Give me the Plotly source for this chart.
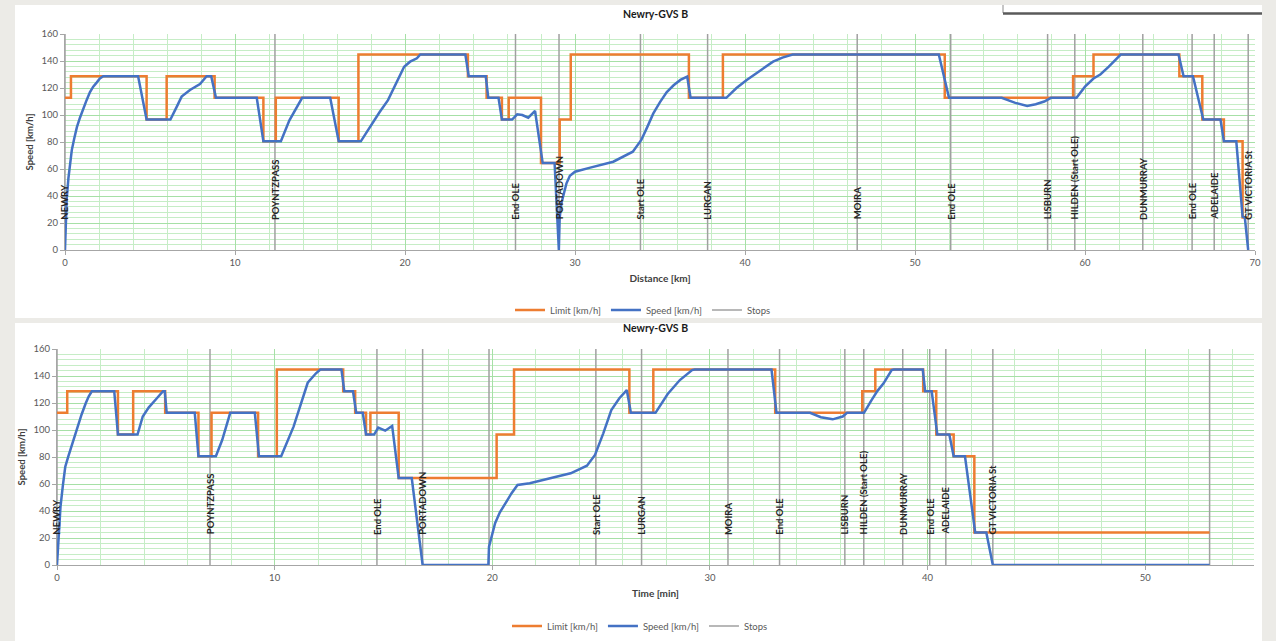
import plotly.graph_objects as go

# ---- Speed limit along the route (step function: segment start, limit value) ----
limit_km_start = [0, 0.35, 4.8, 5.98, 8.8, 11.67, 12.4, 16.1, 17.26, 23.7, 24.8, 25.7, 26.1,
                  28.0, 29.1, 29.75, 36.7, 38.7, 51.75, 59.3, 60.5, 65.55, 66.9, 68.17, 69.27, 69.6]
limit_km_value = [112.7, 128.7, 96.6, 128.7, 112.7, 80.5, 112.7, 80.5, 144.8, 128.7, 112.7, 96.6, 112.7,
                  64.4, 96.6, 144.8, 112.7, 144.8, 112.7, 128.7, 144.8, 128.7, 96.6, 80.5, 24.1, 24.1]

# ---- Simulated train speed against distance ----
speed_km = [0, 0.1, 0.2, 0.3, 0.4, 0.55, 0.7, 0.88, 1.08, 1.27, 1.47, 1.66, 1.86, 2.05, 2.25, 4.3, 4.8,
            6.2, 6.57, 6.86, 7.35, 7.94, 8.33, 8.6, 8.88, 11.28, 11.67, 12.7, 13.2, 13.8, 13.95, 15.6,
            16.1, 17.4, 18.0, 18.5, 19.0, 19.5, 19.95, 20.3, 20.7, 20.9, 23.55, 23.75, 24.75, 24.9, 25.5,
            25.7, 26.3, 26.6, 26.9, 27.25, 27.65, 28.1, 28.8, 29.05, 29.1, 29.2, 29.35, 29.5, 29.7, 30.0,
            30.9, 32.25, 33.4, 33.9, 34.25, 34.6, 35.0, 35.4, 35.8, 36.2, 36.6, 36.8, 38.9, 39.5, 40.1,
            40.9, 41.65, 42.2, 42.8, 51.4, 52.0, 55.1, 55.9, 56.6, 57.1, 57.6, 58.0, 59.5, 60.0, 60.5,
            60.9, 61.4, 62.0, 62.1, 65.5, 65.8, 66.35, 66.96, 67.97, 68.17, 68.9, 69.27, 69.4, 69.6]
speed_km_value = [0, 38, 53, 65, 74, 83, 91, 98, 105, 111, 117, 121, 124, 127, 128.7, 128.7, 96.6,
                  96.6, 106, 113.6, 118.5, 123, 128.7, 128.7, 112.7, 112.7, 80.5, 80.5, 96, 110, 112.7,
                  112.7, 80.5, 80.5, 92.6, 102, 111, 124, 135.8, 139.5, 142, 144.8, 144.8, 128.7, 128.7,
                  112.7, 112.7, 96.6, 96.6, 100.5, 100, 98, 103, 64.4, 64.4, 0, 24, 34.6, 43, 49.4, 55,
                  58, 61, 65.4, 72.8, 81.5, 91, 101, 109.5, 117, 122, 126, 128.4, 112.7, 112.7, 120, 126,
                  133, 139.5, 142.5, 144.8, 144.8, 112.7, 112.7, 109, 106.7, 108, 110, 112.7, 112.7, 121,
                  127, 130, 135.8, 144, 144.8, 144.8, 128.7, 128.7, 96.6, 96.6, 80.5, 80.5, 24.7, 24.1, 0]

# ---- Stops / markers along the route (km) ----
stops_km = [0, 12.35, 26.5, 29.06, 33.85, 37.8, 46.6, 52.1, 57.8, 59.4, 63.4, 66.3, 67.6, 69.6]
stops_km_names = ["NEWRY", "POYNTZPASS", "End OLE", "PORTADOWN", "Start OLE", "LURGAN", "MOIRA",
                  "End OLE", "LISBURN", "HILDEN (Start OLE)", "DUNMURRAY", "End OLE", "ADELAIDE",
                  "GT VICTORIA St"]

# ---- Speed limit against time (step function) ----
limit_min_start = [0, 0.47, 2.8, 3.5, 4.97, 6.5, 7.1, 9.24, 10.1, 13.15, 13.7, 14.2, 14.4, 15.7, 20.2,
                   21.0, 26.3, 27.4, 33.0, 37.0, 37.6, 39.8, 40.4, 41.2, 42.15, 52.96]
limit_min_value = [112.7, 128.7, 96.6, 128.7, 112.7, 80.5, 112.7, 80.5, 144.8, 128.7, 112.7, 96.6,
                   112.7, 64.4, 96.6, 144.8, 112.7, 144.8, 112.7, 128.7, 144.8, 128.7, 96.6, 80.5,
                   24.1, 24.1]

# ---- Simulated train speed against time ----
speed_min = [0, 0.08, 0.16, 0.27, 0.38, 0.52, 0.66, 0.8, 0.94, 1.13, 1.32, 1.46, 1.6, 2.63, 2.8, 3.7,
             3.94, 4.22, 4.59, 4.87, 4.95, 5.04, 6.33, 6.5, 7.3, 7.59, 7.96, 9.09, 9.28, 10.3, 10.87,
             11.2, 11.52, 11.9, 12.1, 13.07, 13.2, 13.6, 13.75, 14.05, 14.2, 14.57, 14.76, 15.08, 15.4,
             15.7, 16.3, 16.8, 19.82, 19.85, 20.0, 20.13, 20.35, 20.6, 20.88, 21.16, 21.72, 22.66,
             23.6, 24.35, 24.72, 25.1, 25.47, 25.84, 26.18, 26.37, 27.5, 28.06, 28.62, 29.18, 29.3,
             32.83, 33.06, 34.6, 35.1, 35.64, 36.1, 36.3, 37.08, 37.42, 37.7, 37.98, 38.35, 38.45,
             39.78, 39.89, 40.19, 40.45, 41.0, 41.2, 41.72, 42.19, 42.7, 43.0, 52.96]
speed_min_value = [0, 25, 43, 59, 72.8, 80.5, 87.6, 95, 102.5, 111.5, 119.8, 125, 128.7, 128.7, 96.6,
                   96.6, 110, 116.8, 123.5, 128.7, 128.7, 112.7, 112.7, 80.5, 80.5, 92.6, 112.7, 112.7,
                   80.5, 80.5, 102.5, 119, 135, 142, 144.8, 144.8, 128.7, 128.7, 112.7, 112.7, 96.6,
                   96.6, 101.7, 99.5, 103, 64.4, 64.4, 0, 0, 13.6, 23, 30.9, 39, 45.7, 53, 59.3, 60.5,
                   64.2, 67.9, 73.6, 81.5, 97.5, 114.8, 123.5, 129.6, 112.7, 112.7, 126.7, 137, 144.4,
                   144.8, 144.8, 112.7, 112.7, 109.5, 107.9, 110, 112.7, 112.7, 122, 129, 134.6, 144.4,
                   144.8, 144.8, 128.7, 128.7, 96.6, 96.6, 80.5, 80.5, 24.1, 24.1, 0, 0]

# ---- Stops / markers against time (min) ----
stops_min = [0, 7.03, 14.7, 16.8, 19.85, 24.76, 26.86, 30.83, 33.2, 36.2, 37.07, 38.86, 40.1, 40.84,
             43.0, 52.96]
stops_min_names = ["NEWRY", "POYNTZPASS", "End OLE", "PORTADOWN", "", "Start OLE", "LURGAN", "MOIRA",
                   "End OLE", "LISBURN", "HILDEN (Start OLE)", "DUNMURRAY", "End OLE", "ADELAIDE",
                   "GT VICTORIA St", ""]

Y_MAX = 160
W, H = 1276, 641
FONT = "Lato, 'Open Sans', sans-serif"
ORANGE, BLUE, GREY = "#ED7D31", "#4472C4", "#A0A0A0"
GRID_MAJOR, GRID_MINOR = "#A6E0A6", "#C6EDC6"
AXIS_GREY = "#A6A6A6"


def px_x(v):
    return v / W


def px_y(v):
    return 1 - v / H


def stop_segments(xs):
    px, py = [], []
    for s in xs:
        px += [s, s, None]
        py += [0, Y_MAX, None]
    return px, py


fig = go.Figure()


def add_chart(xa, ya, leg, stops, limit_x, limit_y, speed_x, speed_y):
    sx, sy = stop_segments(stops)
    fig.add_trace(go.Scatter(x=sx, y=sy, mode="lines", name="Stops", legend=leg, legendrank=3,
                             line=dict(color=GREY, width=1.5), xaxis=xa, yaxis=ya, hoverinfo="skip"))
    fig.add_trace(go.Scatter(x=limit_x, y=limit_y, mode="lines", name="Limit [km/h]", legend=leg,
                             legendrank=1, line=dict(color=ORANGE, width=2.5, shape="hv"),
                             xaxis=xa, yaxis=ya))
    fig.add_trace(go.Scatter(x=speed_x, y=speed_y, mode="lines", name="Speed [km/h]", legend=leg,
                             legendrank=2, line=dict(color=BLUE, width=2.5),
                             xaxis=xa, yaxis=ya))


add_chart("x", "y", "legend", stops_km, limit_km_start, limit_km_value, speed_km, speed_km_value)
add_chart("x2", "y2", "legend2", stops_min, limit_min_start, limit_min_value, speed_min, speed_min_value)

# Rotated stop names
for xs, names, xr, yr in [(stops_km, stops_km_names, "x", "y"), (stops_min, stops_min_names, "x2", "y2")]:
    for s, name in zip(xs, names):
        if not name:
            continue
        fig.add_annotation(x=s, y=21, xref=xr, yref=yr, text=name, textangle=-90, showarrow=False,
                           xanchor="center", yanchor="bottom",
                           font=dict(family=FONT, size=9.5, color="#262626", weight="bold"))


def x_axis(domain, rng, anchor, title):
    return dict(domain=domain, range=rng, anchor=anchor, dtick=10, tick0=0,
                showgrid=True, gridcolor=GRID_MAJOR, gridwidth=1,
                minor=dict(dtick=2, showgrid=True, gridcolor=GRID_MINOR, gridwidth=1),
                showline=True, linecolor=AXIS_GREY, linewidth=1, zeroline=False,
                ticks="outside", ticklen=4, tickcolor=AXIS_GREY,
                tickfont=dict(family=FONT, size=9.5, color="#595959"),
                title=dict(text=title, standoff=7,
                           font=dict(family=FONT, size=10, color="#404040", weight="bold")),
                automargin=False, fixedrange=True)


def y_axis(domain, anchor, standoff):
    return dict(domain=domain, range=[0, Y_MAX], anchor=anchor, dtick=20, tick0=0,
                showgrid=True, gridcolor=GRID_MAJOR, gridwidth=1,
                minor=dict(dtick=4, showgrid=True, gridcolor=GRID_MINOR, gridwidth=1),
                showline=True, linecolor=AXIS_GREY, linewidth=1, zeroline=False,
                ticks="outside", ticklen=4, tickcolor=AXIS_GREY,
                tickfont=dict(family=FONT, size=9.5, color="#595959"),
                title=dict(text="Speed [km/h]", standoff=standoff,
                           font=dict(family=FONT, size=9.5, color="#404040", weight="bold")),
                automargin=False, fixedrange=True)


legend_style = dict(orientation="h", xanchor="center", yanchor="middle", itemwidth=30,
                    bgcolor="rgba(0,0,0,0)", font=dict(family=FONT, size=9.5, color="#595959"),
                    tracegroupgap=0)

fig.update_layout(
    width=W, height=H, margin=dict(l=0, r=0, t=0, b=0),
    paper_bgcolor="#ECEBE7", plot_bgcolor="white",
    font=dict(family=FONT),
    showlegend=True,
    xaxis=x_axis([px_x(65), px_x(1255)], [0, 70], "y", "Distance [km]"),
    yaxis=y_axis([px_y(250), px_y(34)], "x", 6),
    xaxis2=x_axis([px_x(57), px_x(1254)], [0, 55], "y2", "Time [min]"),
    yaxis2=y_axis([px_y(565), px_y(349)], "x2", 6),
    legend=dict(x=px_x(643), y=px_y(310), **legend_style),
    legend2=dict(x=px_x(640), y=px_y(626), **legend_style),
)

# White chart panels on the grey page
for top, bottom in [(5, 318), (323, 641)]:
    fig.add_shape(type="rect", xref="paper", yref="paper", layer="below",
                  x0=px_x(15), x1=px_x(1262), y0=px_y(bottom), y1=px_y(top),
                  fillcolor="white", line=dict(width=0))

# Small floating box edge in the top-right corner
fig.add_shape(type="line", xref="paper", yref="paper", x0=px_x(1003), x1=px_x(1003),
              y0=px_y(13), y1=px_y(5), line=dict(color="#8c8c8c", width=1))
fig.add_shape(type="line", xref="paper", yref="paper", x0=px_x(1003), x1=px_x(1262),
              y0=px_y(13.5), y1=px_y(13.5), line=dict(color="#5a5a5a", width=2.5))

# Chart titles
for ytitle in [14, 328]:
    fig.add_annotation(x=px_x(655), y=px_y(ytitle), xref="paper", yref="paper", text="Newry-GVS B",
                       showarrow=False, xanchor="center", yanchor="middle",
                       font=dict(family=FONT, size=10.5, color="#1a1a1a", weight="bold"))

fig.write_html("out.html", config={"displayModeBar": False})
